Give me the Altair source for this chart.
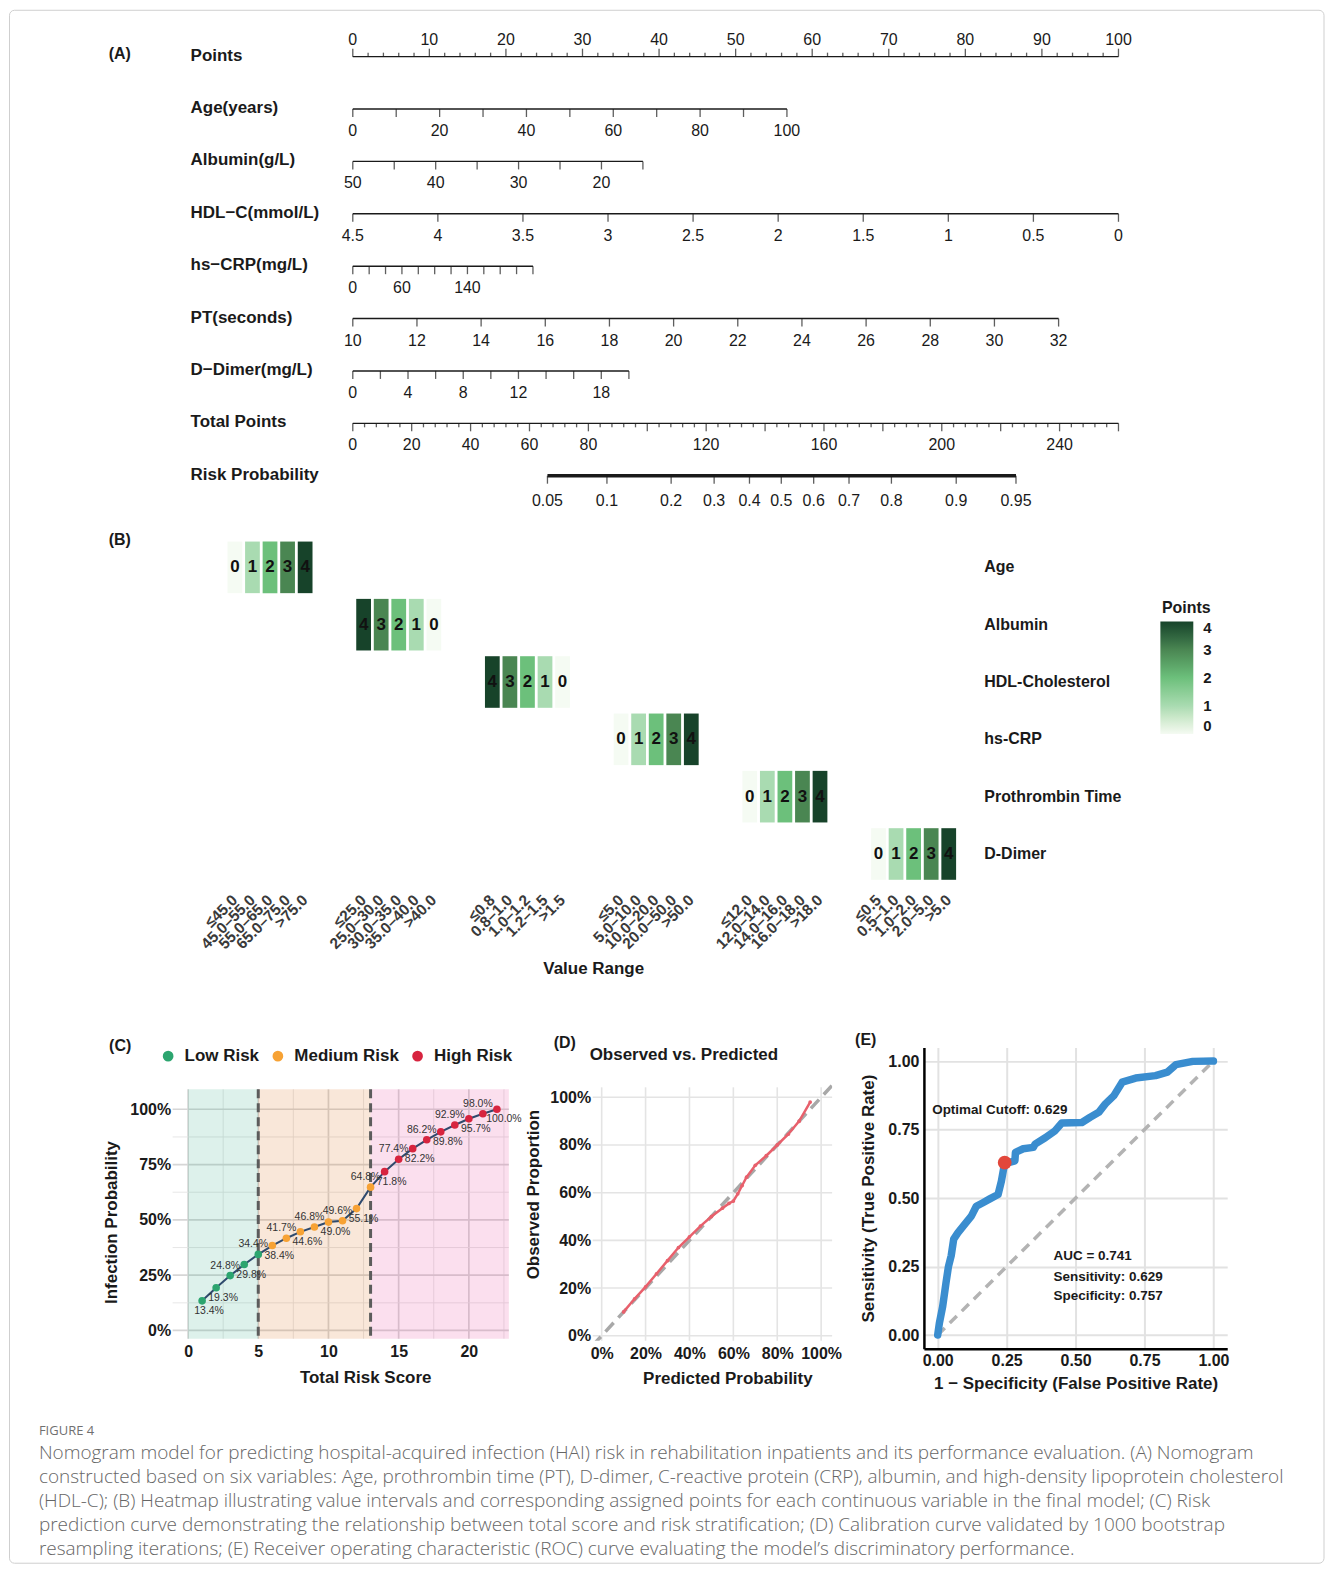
import altair as alt
import pandas as pd

FONT = "Liberation Sans"
INK = "#1a1a1a"

# ======================= (A) Nomogram data =======================
nomo_rows = ["Points", "Age(years)", "Albumin(g/L)", "HDL−C(mmol/L)", "hs−CRP(mg/L)",
             "PT(seconds)", "D−Dimer(mg/L)", "Total Points", "Risk Probability"]

points_ticks = list(range(0, 101, 2))
points_labels = list(range(0, 101, 10))

age_ticks = list(range(0, 101, 10))
age_labels = [0, 20, 40, 60, 80, 100]
age_span = [0, 100, 0.0, 56.70]          # value at start, value at end, points at start, points at end

albumin_ticks = [50, 45, 40, 35, 30, 25, 20, 15]
albumin_labels = [50, 40, 30, 20]
albumin_span = [50, 15, 0.0, 37.89]

hdl_ticks = [4.5, 4, 3.5, 3, 2.5, 2, 1.5, 1, 0.5, 0]
hdl_labels = [4.5, 4, 3.5, 3, 2.5, 2, 1.5, 1, 0.5, 0]
hdl_span = [4.5, 0, 0.0, 100.0]

crp_ticks = list(range(0, 221, 20))
crp_labels = [0, 60, 140]
crp_span = [0, 220, 0.0, 23.53]

pt_ticks = list(range(10, 33, 2))
pt_labels = list(range(10, 33, 2))
pt_span = [10, 32, 0.0, 92.18]

dd_ticks = list(range(0, 21, 2))
dd_labels = [0, 4, 8, 12, 18]
dd_span = [0, 20, 0.0, 36.06]

total_ticks = list(range(0, 261, 4))
total_labels = [0, 20, 40, 60, 80, 120, 160, 200, 240]
total_span = [0, 260, 0.0, 100.0]

risk_probs = [0.05, 0.1, 0.2, 0.3, 0.4, 0.5, 0.6, 0.7, 0.8, 0.9, 0.95]
risk_total_points = [66.1, 86.3, 108.1, 122.7, 134.7, 145.5, 156.5, 168.5, 182.9, 204.9, 225.2]

# ======================= (B) Heatmap data =======================
heat_vars = ["Age", "Albumin", "HDL-Cholesterol", "hs-CRP", "Prothrombin Time", "D-Dimer"]
heat_ranges = [
    ["≤45.0", "45.0–55.0", "55.0–65.0", "65.0–75.0", ">75.0"],
    ["≤25.0", "25.0–30.0", "30.0–35.0", "35.0–40.0", ">40.0"],
    ["≤0.8", "0.8–1.0", "1.0–1.2", "1.2–1.5", ">1.5"],
    ["≤5.0", "5.0–10.0", "10.0–20.0", "20.0–50.0", ">50.0"],
    ["≤12.0", "12.0–14.0", "14.0–16.0", "16.0–18.0", ">18.0"],
    ["≤0.5", "0.5–1.0", "1.0–2.0", "2.0–5.0", ">5.0"],
]
heat_points = [[0, 1, 2, 3, 4], [4, 3, 2, 1, 0], [4, 3, 2, 1, 0],
               [0, 1, 2, 3, 4], [0, 1, 2, 3, 4], [0, 1, 2, 3, 4]]
heat_colors = ["#f5fbf3", "#a9dbb1", "#6cc07b", "#4a8652", "#17432a"]

# ======================= (C) Risk curve data =======================
risk_score = list(range(1, 23))
risk_prob = [0.134, 0.193, 0.248, 0.298, 0.344, 0.384, 0.417, 0.446, 0.468, 0.490, 0.496,
             0.551, 0.648, 0.718, 0.774, 0.822, 0.862, 0.898, 0.929, 0.957, 0.980, 1.000]
risk_group = ["Low Risk"] * 5 + ["Medium Risk"] * 8 + ["High Risk"] * 9
risk_groups = ["Low Risk", "Medium Risk", "High Risk"]
risk_colors = ["#2ca56f", "#f7a234", "#d7243f"]
zone_start = [0, 5, 13]
zone_end = [5, 13, 22.85]
zone_colors = ["#1b9e77", "#d95f02", "#e7298a"]
cut_points = [5, 13]

# ======================= (D) Calibration data =======================
cal_pred = [0.10, 0.15, 0.20, 0.25, 0.30, 0.35, 0.40, 0.45, 0.50, 0.55, 0.58, 0.60, 0.62,
            0.64, 0.66, 0.70, 0.75, 0.80, 0.85, 0.90, 0.95]
cal_obs = [0.10, 0.155, 0.205, 0.26, 0.315, 0.37, 0.415, 0.46, 0.50, 0.535, 0.555, 0.565, 0.595,
           0.63, 0.665, 0.715, 0.755, 0.80, 0.845, 0.90, 0.98]

# ======================= (E) ROC data =======================
roc_fpr = [0.0, 0.006, 0.018, 0.030, 0.039, 0.049, 0.058, 0.073, 0.097, 0.122, 0.140, 0.164,
           0.189, 0.219, 0.231, 0.243, 0.260, 0.280, 0.282, 0.310, 0.347, 0.353, 0.390, 0.426,
           0.450, 0.523, 0.553, 0.584, 0.608, 0.639, 0.669, 0.718, 0.790, 0.833, 0.864, 0.925, 1.0]
roc_tpr = [0.0, 0.043, 0.104, 0.190, 0.250, 0.290, 0.350, 0.373, 0.403, 0.434, 0.470, 0.483,
           0.497, 0.513, 0.562, 0.629, 0.630, 0.636, 0.667, 0.680, 0.685, 0.697, 0.720, 0.746,
           0.774, 0.776, 0.795, 0.813, 0.844, 0.874, 0.923, 0.938, 0.947, 0.960, 0.987, 0.999, 1.0]
cutoff_point = [0.243, 0.629]
roc_notes = ["AUC = 0.741", "Sensitivity: 0.629", "Specificity: 0.757"]

caption_lines = [
    "Nomogram model for predicting hospital-acquired infection (HAI) risk in rehabilitation inpatients and its performance evaluation. (A) Nomogram",
    "constructed based on six variables: Age, prothrombin time (PT), D-dimer, C-reactive protein (CRP), albumin, and high-density lipoprotein cholesterol",
    "(HDL-C); (B) Heatmap illustrating value intervals and corresponding assigned points for each continuous variable in the final model; (C) Risk",
    "prediction curve demonstrating the relationship between total score and risk stratification; (D) Calibration curve validated by 1000 bootstrap",
    "resampling iterations; (E) Receiver operating characteristic (ROC) curve evaluating the model’s discriminatory performance.",
]


def one():
    return pd.DataFrame({"a": [0]})


def spacer(w, h):
    return alt.Chart(one()).mark_point(opacity=0, size=1).encode(
        x=alt.value(0), y=alt.value(0)).properties(width=w, height=h)


# ======================= Build (A) =======================
def to_pts(v, span):
    v0, v1, p0, p1 = span
    return p0 + (v - v0) / (v1 - v0) * (p1 - p0)


def fmt(v):
    return f"{v:g}"


var_defs = [
    ("Age(years)", age_ticks, age_labels, age_span),
    ("Albumin(g/L)", albumin_ticks, albumin_labels, albumin_span),
    ("HDL−C(mmol/L)", hdl_ticks, hdl_labels, hdl_span),
    ("hs−CRP(mg/L)", crp_ticks, crp_labels, crp_span),
    ("PT(seconds)", pt_ticks, pt_labels, pt_span),
    ("D−Dimer(mg/L)", dd_ticks, dd_labels, dd_span),
]

lines_rows, tdown_long, tdown_short, tup_long, tup_short, lab_below, lab_above = [], [], [], [], [], [], []
lines_rows.append({"row": "Points", "start": 0.0, "end": 100.0})
for v in points_ticks:
    (tup_long if v % 10 == 0 else tup_short).append({"row": "Points", "pos": float(v)})
for v in points_labels:
    lab_above.append({"row": "Points", "pos": float(v), "text": fmt(v)})
for name, ticks, labels, span in var_defs:
    lines_rows.append({"row": name, "start": to_pts(span[0], span), "end": to_pts(span[1], span)})
    for v in ticks:
        tdown_long.append({"row": name, "pos": to_pts(v, span)})
    for v in labels:
        lab_below.append({"row": name, "pos": to_pts(v, span), "text": fmt(v)})
lines_rows.append({"row": "Total Points", "start": 0.0, "end": 100.0})
for v in total_ticks:
    (tdown_long if v % 20 == 0 else tdown_short).append({"row": "Total Points", "pos": to_pts(v, total_span)})
for v in total_labels:
    lab_below.append({"row": "Total Points", "pos": to_pts(v, total_span), "text": fmt(v)})
risk_pos = [to_pts(t, total_span) for t in risk_total_points]
risk_labels = []
for p, v in zip(risk_pos, risk_probs):
    tdown_long.append({"row": "Risk Probability", "pos": p})
    risk_labels.append({"row": "Risk Probability", "pos": p, "text": fmt(v)})
risk_line = pd.DataFrame({"row": ["Risk Probability"], "start": [min(risk_pos)], "end": [max(risk_pos)]})

xA = alt.Scale(domain=[-44.90, 125.80], nice=False, zero=False)
yA = alt.Scale(type="point", domain=nomo_rows, range=[47, 467], padding=0)
XA = alt.X("pos:Q", scale=xA, axis=None)
YA = alt.Y("row:N", scale=yA, axis=None)

a_frame = alt.Chart(one()).mark_rect(fillOpacity=0, stroke="#cfcfcf", strokeWidth=1, cornerRadius=5).encode(
    x=alt.value(0.5), x2=alt.value(1318), y=alt.value(0.5), y2=alt.value(1557))
a_lines = alt.Chart(pd.DataFrame(lines_rows)).mark_rule(color=INK, strokeWidth=1.4).encode(
    x=alt.X("start:Q", scale=xA, axis=None), x2="end:Q", y=YA)
a_risk = alt.Chart(risk_line).mark_rule(color=INK, strokeWidth=3.5).encode(
    x=alt.X("start:Q", scale=xA, axis=None), x2="end:Q", y=YA)
a_tdl = alt.Chart(pd.DataFrame(tdown_long)).mark_tick(orient="vertical", size=8, thickness=1.3, yOffset=4, color=INK).encode(x=XA, y=YA)
a_tds = alt.Chart(pd.DataFrame(tdown_short)).mark_tick(orient="vertical", size=4, thickness=1.3, yOffset=2, color=INK).encode(x=XA, y=YA)
a_tul = alt.Chart(pd.DataFrame(tup_long)).mark_tick(orient="vertical", size=8, thickness=1.3, yOffset=-4, color=INK).encode(x=XA, y=YA)
a_tus = alt.Chart(pd.DataFrame(tup_short)).mark_tick(orient="vertical", size=4, thickness=1.3, yOffset=-2, color=INK).encode(x=XA, y=YA)
a_lb = alt.Chart(pd.DataFrame(lab_below)).mark_text(font=FONT, fontSize=16, color=INK, dy=22).encode(x=XA, y=YA, text="text:N")
a_lr = alt.Chart(pd.DataFrame(risk_labels)).mark_text(font=FONT, fontSize=16, color=INK, dy=25).encode(x=XA, y=YA, text="text:N")
a_la = alt.Chart(pd.DataFrame(lab_above)).mark_text(font=FONT, fontSize=16, color=INK, dy=-17).encode(x=XA, y=YA, text="text:N")
a_names = alt.Chart(pd.DataFrame({"row": nomo_rows})).mark_text(
    font=FONT, fontSize=17, fontWeight="bold", align="left", color=INK, dy=-1).encode(
    x=alt.value(182), y=YA, text="row:N")
a_tag = alt.Chart(pd.DataFrame({"t": ["(A)"]})).mark_text(
    font=FONT, fontSize=16, fontWeight="bold", align="left", color=INK).encode(
    x=alt.value(100), y=alt.value(44), text="t:N")
panel_a = alt.layer(a_frame, a_lines, a_risk, a_tdl, a_tds, a_tul, a_tus, a_lb, a_lr, a_la, a_names, a_tag
                    ).properties(width=1310, height=522)

# ======================= Build (B) =======================
group_step = 7.33
heat_rows = []
for g, var in enumerate(heat_vars):
    for i in range(5):
        pos = g * group_step + i
        heat_rows.append({"var": var, "pos": pos, "lo": pos - 0.42, "hi": pos + 0.42,
                          "points": heat_points[g][i], "range": heat_ranges[g][i]})
heat_df = pd.DataFrame(heat_rows)

xB = alt.Scale(domain=[-12.864, 41.68], nice=False, zero=False)
yB = alt.Scale(domain=heat_vars, range=[11, 350], paddingInner=0.1, paddingOuter=0)
YB = alt.Y("var:N", scale=yB, sort=heat_vars, axis=alt.Axis(
    orient="right", title=None, domain=False, ticks=False, grid=False, labelFont=FONT,
    labelFontSize=16, labelFontWeight="bold", labelColor=INK, labelPadding=17, labelAlign="left"))
b_rect = alt.Chart(heat_df).mark_rect().encode(
    x=alt.X("lo:Q", scale=xB, axis=None), x2="hi:Q", y=YB,
    color=alt.Color("points:Q", scale=alt.Scale(domain=[0, 1, 2, 3, 4], range=heat_colors),
                    legend=alt.Legend(title="Points", orient="none", legendX=1154, legendY=70,
                                      gradientLength=113, gradientThickness=33, gradientStrokeWidth=0,
                                      values=[0, 1, 2, 3, 4], titleFont=FONT, titleFontSize=16,
                                      titleFontWeight="bold", titleColor=INK, titleAnchor="middle",
                                      labelFont=FONT, labelFontSize=15, labelFontWeight="bold",
                                      labelColor=INK, labelOffset=10)))
b_num = alt.Chart(heat_df).mark_text(font=FONT, fontSize=17, fontWeight="bold", color="#111").encode(
    x=alt.X("pos:Q", scale=xB, axis=None), y=YB, text="points:Q")
b_rng = alt.Chart(heat_df).mark_text(font=FONT, fontSize=15.5, fontWeight="bold", color="#3a3a3a",
                                     angle=315, align="right", baseline="middle").encode(
    x=alt.X("pos:Q", scale=xB, axis=None), y=alt.value(368), text="range:N")
b_title = alt.Chart(pd.DataFrame({"t": ["Value Range"]})).mark_text(
    font=FONT, fontSize=17, fontWeight="bold", color=INK).encode(x=alt.value(586), y=alt.value(439), text="t:N")
b_tag = alt.Chart(pd.DataFrame({"t": ["(B)"]})).mark_text(
    font=FONT, fontSize=16, fontWeight="bold", align="left", color=INK).encode(x=alt.value(100), y=alt.value(9), text="t:N")
panel_b = alt.layer(b_rect, b_num, b_rng, b_title, b_tag).properties(width=960, height=518)

# ======================= Build (C) =======================
CW, CH, C_TOP = 337, 292, 42
c_xs = alt.Scale(domain=[-1.1, 22.85], nice=False, zero=False)
c_ys = alt.Scale(domain=[-0.0374, 1.2797], nice=False, zero=False)
c_xaxis = alt.Axis(values=[0, 5, 10, 15, 20], title="Total Risk Score", grid=False, domain=False, ticks=False,
                   labelFont=FONT, labelFontSize=16, labelFontWeight="bold", labelColor=INK, labelPadding=5,
                   titleFont=FONT, titleFontSize=17, titleFontWeight="bold", titleColor=INK, titlePadding=10,
                   titleX=193)
c_yaxis = alt.Axis(values=[0, 0.25, 0.5, 0.75, 1], format=".0%", title="Infection Probability", grid=False,
                   domain=False, ticks=False, labelFont=FONT, labelFontSize=16, labelFontWeight="bold",
                   labelColor=INK, labelPadding=2, titleFont=FONT, titleFontSize=17, titleFontWeight="bold",
                   titleColor=INK, titlePadding=9, titleY=175)

c_vgrid = pd.DataFrame({"gx": [i * 2.5 for i in range(10)]})
c_vgrid["major"] = c_vgrid["gx"] % 5 == 0
c_hgrid = pd.DataFrame({"gy": [i * 0.125 for i in range(9)]})
c_hgrid["major"] = [i % 2 == 0 for i in range(9)]

c_vg_major = alt.Chart(c_vgrid[c_vgrid.major]).mark_rule(color="#d6d6d6", strokeWidth=1.7).encode(
    x=alt.X("gx:Q", scale=c_xs, axis=c_xaxis), y=alt.value(C_TOP), y2=alt.value(CH))
c_vg_minor = alt.Chart(c_vgrid[~c_vgrid.major]).mark_rule(color="#e4e4e4", strokeWidth=0.9).encode(
    x=alt.X("gx:Q", scale=c_xs, axis=c_xaxis), y=alt.value(C_TOP), y2=alt.value(CH))
c_hg_major = alt.Chart(c_hgrid[c_hgrid.major]).mark_rule(color="#d6d6d6", strokeWidth=1.7).encode(
    y=alt.Y("gy:Q", scale=c_ys, axis=c_yaxis), x=alt.value(0), x2=alt.value(CW))
c_hg_minor = alt.Chart(c_hgrid[~c_hgrid.major]).mark_rule(color="#e4e4e4", strokeWidth=0.9).encode(
    y=alt.Y("gy:Q", scale=c_ys, axis=c_yaxis), x=alt.value(0), x2=alt.value(CW))

c_zones = []
for zs, ze, zc in zip(zone_start, zone_end, zone_colors):
    c_zones.append(alt.Chart(pd.DataFrame({"x0": [zs], "x1": [ze]})).mark_rect(color=zc, opacity=0.15).encode(
        x=alt.X("x0:Q", scale=c_xs, axis=c_xaxis), x2="x1:Q", y=alt.value(C_TOP), y2=alt.value(CH)))
c_cut = alt.Chart(pd.DataFrame({"cx": cut_points})).mark_rule(
    color="#5c5c5c", strokeWidth=3, strokeDash=[9, 5]).encode(
    x=alt.X("cx:Q", scale=c_xs, axis=c_xaxis), y=alt.value(C_TOP), y2=alt.value(CH))

risk_df = pd.DataFrame({"score": risk_score, "prob": risk_prob, "group": risk_group})
risk_df["label"] = [f"{p * 100:.1f}%" for p in risk_prob]
risk_df["side"] = ["below" if (s % 2 == 0 or s == 1) else "above" for s in risk_score]
CX = alt.X("score:Q", scale=c_xs, axis=c_xaxis)
CY = alt.Y("prob:Q", scale=c_ys, axis=c_yaxis)
c_line = alt.Chart(risk_df).mark_line(color="#2f4a6d", strokeWidth=2).encode(x=CX, y=CY)
c_pts = alt.Chart(risk_df).mark_circle(size=58, opacity=1).encode(
    x=CX, y=CY,
    color=alt.Color("group:N", scale=alt.Scale(domain=risk_groups, range=risk_colors),
                    legend=alt.Legend(title=None, orient="none", legendX=-13, legendY=0, direction="horizontal",
                                      labelFont=FONT, labelFontSize=17, labelFontWeight="bold", labelColor=INK,
                                      symbolType="circle", symbolSize=115, symbolStrokeWidth=0,
                                      columnPadding=10, labelOffset=8)))
c_lab_a = alt.Chart(risk_df[risk_df.side == "above"]).mark_text(
    font=FONT, fontSize=10.5, color="#333", dx=-5, dy=-10).encode(x=CX, y=CY, text="label:N")
c_lab_b = alt.Chart(risk_df[risk_df.side == "below"]).mark_text(
    font=FONT, fontSize=10.5, color="#333", dx=7, dy=10).encode(x=CX, y=CY, text="label:N")
c_tag = alt.Chart(pd.DataFrame({"t": ["(C)"]})).mark_text(
    font=FONT, fontSize=16, fontWeight="bold", align="left", color=INK).encode(
    x=alt.value(-63.7), y=alt.value(-1), text="t:N")
panel_c = alt.layer(c_vg_minor, c_vg_major, c_hg_minor, c_hg_major, *c_zones, c_cut, c_line, c_pts,
                    c_lab_a, c_lab_b, c_tag).properties(width=CW, height=CH)

# ======================= Build (D) =======================
DW, DH, D_TOP = 240, 294, 40
d_xs = alt.Scale(domain=[-0.041, 1.05], nice=False, zero=False)
d_ys = alt.Scale(domain=[-0.0209, 1.2092], nice=False, zero=False)
d_vals = [0, 0.2, 0.4, 0.6, 0.8, 1.0]
d_common = dict(values=d_vals, format=".0%", grid=False, domain=False, ticks=False, labelFont=FONT,
                labelFontSize=16, labelFontWeight="bold", labelColor=INK, titleFont=FONT, titleFontSize=17,
                titleFontWeight="bold", titleColor=INK)
d_xaxis = alt.Axis(title="Predicted Probability", labelPadding=5, titlePadding=9, titleX=135, **d_common)
d_yaxis = alt.Axis(title="Observed Proportion", labelPadding=2, titlePadding=7, titleY=147, **d_common)
DX = alt.X("pred:Q", scale=d_xs, axis=d_xaxis)
DY = alt.Y("obs:Q", scale=d_ys, axis=d_yaxis)
d_grid_df = pd.DataFrame({"pred": d_vals, "obs": d_vals})
d_vgrid = alt.Chart(d_grid_df).mark_rule(color="#e4e4e4", strokeWidth=1.6).encode(
    x=DX, y=alt.value(D_TOP), y2=alt.value(DH))
d_hgrid = alt.Chart(d_grid_df).mark_rule(color="#e4e4e4", strokeWidth=1.6).encode(
    y=DY, x=alt.value(0), x2=alt.value(DW))
diag_df = pd.DataFrame({"pred": [-0.041, 1.05], "obs": [-0.041, 1.05]})
d_diag = alt.Chart(diag_df).mark_line(color="#a8a8a8", strokeWidth=3.5, strokeDash=[12, 7], clip=True).encode(x=DX, y=DY)
cal_df = pd.DataFrame({"pred": cal_pred, "obs": cal_obs})
d_line = alt.Chart(cal_df).mark_line(color="#e8606c", strokeWidth=2.5).encode(x=DX, y=DY)
d_pts = alt.Chart(cal_df).mark_circle(color="#e8606c", size=14, opacity=1).encode(x=DX, y=DY)
d_tag = alt.Chart(pd.DataFrame({"t": ["(D)"]})).mark_text(
    font=FONT, fontSize=16, fontWeight="bold", align="left", color=INK).encode(
    x=alt.value(-39), y=alt.value(-4), text="t:N")
d_title = alt.Chart(pd.DataFrame({"t": ["Observed vs. Predicted"]})).mark_text(
    font=FONT, fontSize=17, fontWeight="bold", align="left", color=INK).encode(
    x=alt.value(-3), y=alt.value(8), text="t:N")
panel_d = alt.layer(d_vgrid, d_hgrid, d_diag, d_line, d_pts, d_tag, d_title).properties(width=DW, height=DH)

# ======================= Build (E) =======================
EW, EH = 304, 302
e_s = alt.Scale(domain=[-0.05, 1.05], nice=False, zero=False)
e_common = dict(values=[0, 0.25, 0.5, 0.75, 1.0], format=".2f", grid=True, gridColor="#e2e2e2", gridWidth=2,
                domain=True, domainColor="#000", domainWidth=2.5, ticks=False, labelFont=FONT,
                labelFontSize=16, labelFontWeight="bold", labelColor=INK, titleFont=FONT, titleFontSize=17,
                titleFontWeight="bold", titleColor=INK)
e_xaxis = alt.Axis(title="1 − Specificity (False Positive Rate)", labelPadding=4, titlePadding=7, **e_common)
e_yaxis = alt.Axis(title="Sensitivity (True Positive Rate)", labelPadding=5, titlePadding=10, **e_common)
EX = alt.X("fpr:Q", scale=e_s, axis=e_xaxis)
EY = alt.Y("tpr:Q", scale=e_s, axis=e_yaxis)
e_diag = alt.Chart(pd.DataFrame({"fpr": [0, 1], "tpr": [0, 1]})).mark_line(
    color="#b3b3b3", strokeWidth=3.5, strokeDash=[10, 7]).encode(x=EX, y=EY)
roc_df = pd.DataFrame({"fpr": roc_fpr, "tpr": roc_tpr, "i": list(range(len(roc_fpr)))})
e_roc = alt.Chart(roc_df).mark_line(color="#3a8dcf", strokeWidth=7.5, strokeCap="round", strokeJoin="round").encode(
    x=EX, y=EY, order="i:Q")
e_cut = alt.Chart(pd.DataFrame({"fpr": [cutoff_point[0]], "tpr": [cutoff_point[1]]})).mark_circle(
    color="#e2473b", size=190, opacity=1).encode(x=EX, y=EY)
e_txt1 = alt.Chart(pd.DataFrame({"fpr": [-0.02], "tpr": [0.823], "t": ["Optimal Cutoff: 0.629"]})).mark_text(
    font=FONT, fontSize=13.5, fontWeight="bold", align="left", color=INK).encode(x=EX, y=EY, text="t:N")
e_txt2 = alt.Chart(pd.DataFrame({"fpr": [0.42] * 3, "tpr": [0.29, 0.213, 0.144], "t": roc_notes})).mark_text(
    font=FONT, fontSize=13.5, fontWeight="bold", align="left", color=INK).encode(x=EX, y=EY, text="t:N")
e_tag = alt.Chart(pd.DataFrame({"t": ["(E)"]})).mark_text(
    font=FONT, fontSize=16, fontWeight="bold", align="left", color=INK).encode(
    x=alt.value(-69), y=alt.value(-7), text="t:N")
panel_e = alt.layer(e_diag, e_roc, e_cut, e_txt1, e_txt2, e_tag).properties(width=EW, height=EH)

# ======================= Caption =======================
cap_df = pd.DataFrame({"t": caption_lines, "i": list(range(len(caption_lines)))})
cap_fig = alt.Chart(pd.DataFrame({"t": ["FIGURE 4"]})).mark_text(
    font="Open Sans", fontSize=13, color="#707070", align="left").encode(x=alt.value(30), y=alt.value(27), text="t:N")
cap_txt = alt.Chart(cap_df).mark_text(font="Open Sans", fontSize=19, fontWeight=300, color="#666666",
                                      align="left").encode(
    x=alt.value(30),
    y=alt.Y("i:O", scale=alt.Scale(type="point", domain=list(range(5)), range=[50, 146], padding=0), axis=None),
    text="t:N")
caption = alt.layer(cap_fig, cap_txt).properties(width=1310, height=158)

# ======================= Compose (flush layout: panels placed by their sizes) =======================
row_cde = alt.hconcat(spacer(163.7, 357), panel_c, spacer(83.3, 1), panel_d, spacer(92, 1), panel_e,
                      spacing=0, bounds="flush").resolve_scale(x="independent", y="independent", color="independent")
chart = alt.vconcat(panel_a, panel_b, row_cde, spacer(1310, 357), caption, spacing=0, bounds="flush").resolve_scale(
    x="independent", y="independent", color="independent").properties(
    padding=0).configure(font=FONT).configure_view(stroke="transparent", strokeWidth=0)

chart.save("out.html", embed_options={"renderer": "svg", "actions": False})
